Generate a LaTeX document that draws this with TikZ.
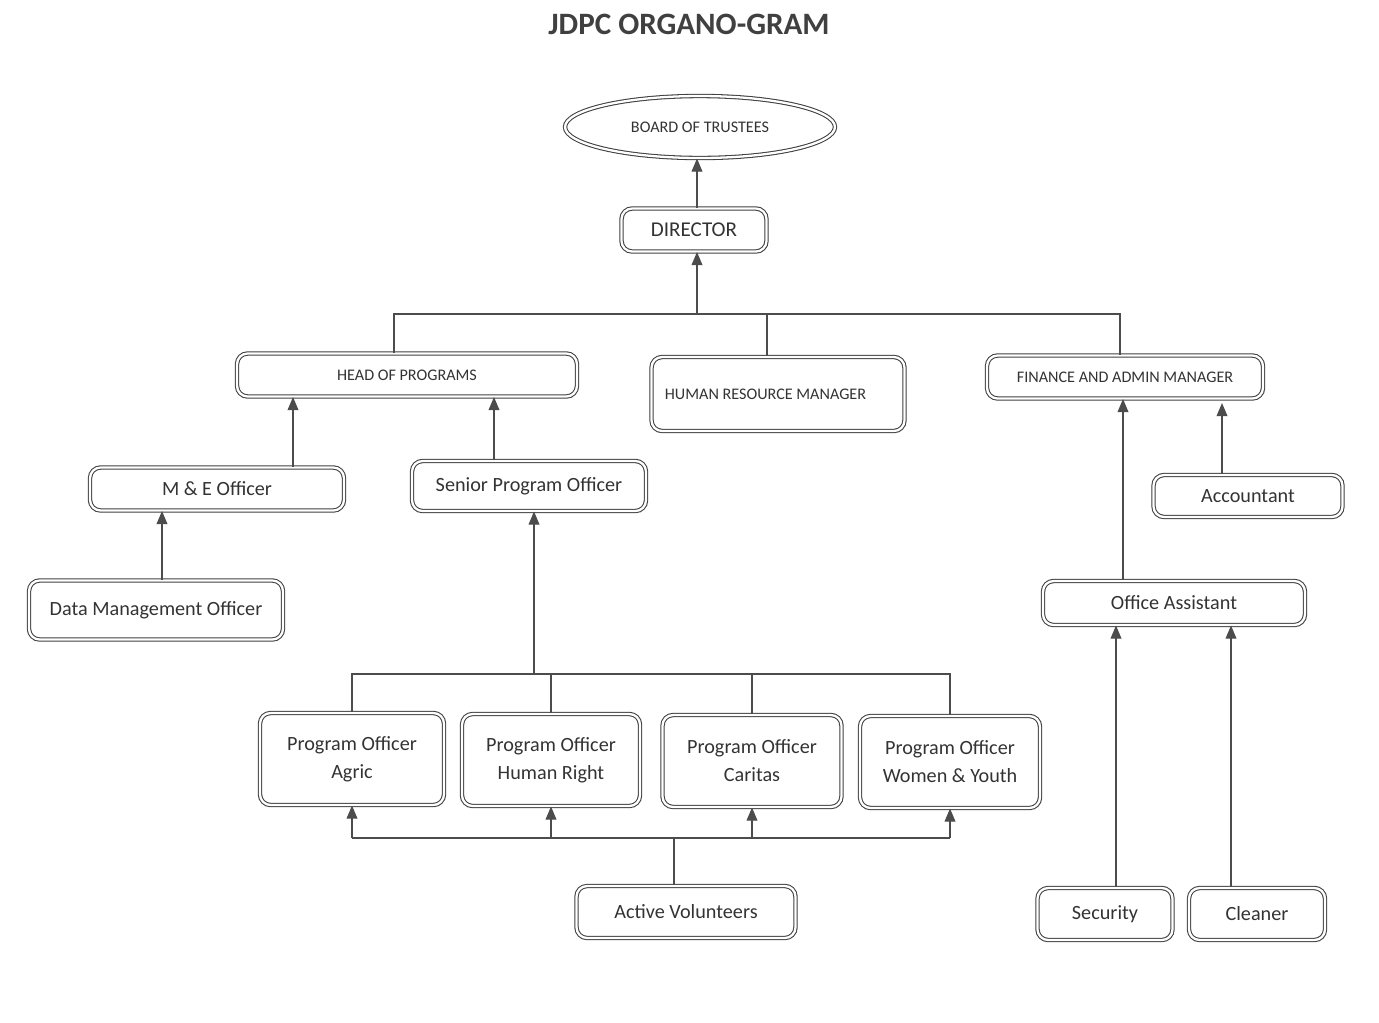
\documentclass[tikz,border=0pt]{standalone}
\usepackage{fontspec}
\setmainfont{Carlito}
\usetikzlibrary{shapes,arrows,positioning}

\begin{document}
\begin{tikzpicture}[x=0.02cm,y=-0.02cm]
\tikzset{box/.style={draw=black!75,double,double distance=1.3pt,line width=0.6pt,rounded corners=6pt,inner sep=0pt,align=center,font={\fontsize{11.5}{16}\selectfont},text=black!80},
small/.style={font={\fontsize{9.2}{11}\selectfont}},
link/.style={draw=black!70,line width=0.7pt},
up/.style={link,-triangle 45}}
\useasboundingbox (0,0) rectangle (1379,1022);
%Title
\node[font={\fontsize{17.7}{20}\selectfont\bfseries},text=black!75] (title) at (689,24) {JDPC ORGANO-GRAM};

%Top
\node[box,ellipse,rounded corners=0pt,small,minimum width=5.4cm,minimum height=1.24cm] (bot) at (700,127) {BOARD OF TRUSTEES};
\node[box,minimum width=2.9cm,minimum height=0.86cm,font={\fontsize{12}{14}\selectfont}] (dir) at (694,230) {DIRECTOR};

%Managers
\node[box,small,minimum width=6.8cm,minimum height=0.86cm] (hop) at (407,375) {HEAD OF PROGRAMS};
\node[box,small,minimum width=5.06cm,minimum height=1.48cm] (hrm) at (778,394) {HUMAN RESOURCE MANAGER\hspace{0.5cm}};
\node[box,small,minimum width=5.52cm,minimum height=0.86cm] (fam) at (1125,377) {FINANCE AND ADMIN MANAGER};

%Programs side
\node[box,minimum width=5.08cm,minimum height=0.86cm] (meo) at (217,489) {M \& E Officer};
\node[box,minimum width=4.68cm,minimum height=1.0cm] (spo) at (529,486) {Senior Program Officer};
\node[box,minimum width=5.08cm,minimum height=1.18cm] (dmo) at (156,610) {Data Management Officer};
\node[box,minimum width=3.68cm,minimum height=1.84cm] (agric) at (352,759) {Program Officer\\Agric};
\node[box,minimum width=3.56cm,minimum height=1.84cm] (human) at (551,760) {Program Officer\\Human Right};
\node[box,minimum width=3.58cm,minimum height=1.84cm] (caritas) at (752,761) {Program Officer\\Caritas};
\node[box,minimum width=3.6cm,minimum height=1.84cm] (women) at (950,762) {Program Officer\\Women \& Youth};
\node[box,minimum width=4.38cm,minimum height=1.04cm] (vol) at (686,912) {Active Volunteers};

%Admin side
\node[box,minimum width=3.78cm,minimum height=0.84cm] (acc) at (1248,496) {Accountant};
\node[box,minimum width=5.24cm,minimum height=0.88cm] (oa) at (1174,603) {Office Assistant};
\node[box,minimum width=2.7cm,minimum height=1.04cm] (sec) at (1105,914) {Security};
\node[box,minimum width=2.72cm,minimum height=1.04cm] (cln) at (1257,914) {Cleaner};

%Bus points
\coordinate (b0) at (697,314);
\coordinate (b1) at (534,674);
\coordinate (b2) at (674,838);

\draw[up] (dir.north -| 697,0) -- (bot.south -| 697,0);
\draw[up] (b0) -- (dir.south -| 697,0);
\draw[link] (hop.north -| 394,0) |- (b0) -| (fam.north -| 1120,0);
\draw[link] (b0 -| hrm.north -| 767,0) -- (hrm.north -| 767,0);

\draw[up] (meo.north -| 293,0) -- (hop.south -| 293,0);
\draw[up] (spo.north -| 494,0) -- (hop.south -| 494,0);
\draw[up] (dmo.north -| 162,0) -- (meo.south -| 162,0);
\draw[up] (b1) -- (spo.south -| 534,0);
\draw[link] (agric.north) |- (b1) -| (women.north);
\foreach \n in {human,caritas}
\draw[link] (\n.north) -- (\n.north |- b1);

\draw[link] (vol.north -| 674,0) -- (b2);
\draw[link] (agric.south |- b2) -- (women.south |- b2);
\foreach \n in {agric,human,caritas,women}
\draw[up] (\n.south |- b2) -- (\n.south);

\draw[up] (oa.north -| 1123,0) -- (fam.south -| 1123,0);
\draw[up] (acc.north -| 1222,0) -- ([yshift=-0.08cm]fam.south -| 1222,0);
\draw[up] (sec.north -| 1116,0) -- (oa.south -| 1116,0);
\draw[up] (cln.north -| 1231,0) -- (oa.south -| 1231,0);
\end{tikzpicture}
\end{document}
